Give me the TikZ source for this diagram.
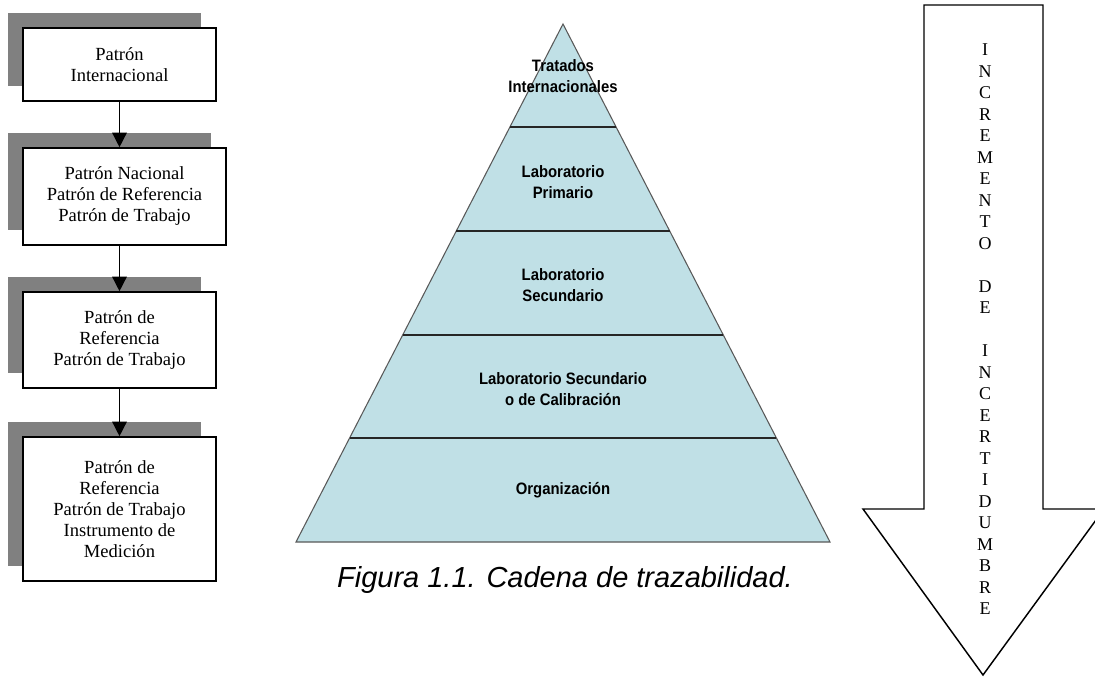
\documentclass[tikz,border=0pt]{standalone}
\usepackage{fontspec}
\setmainfont{Liberation Serif}
\newfontfamily\pyrfont[FakeStretch=0.9]{Liberation Sans}
\newfontfamily\capfont{Liberation Sans}
\usetikzlibrary{arrows.meta,shadows}
\definecolor{pyrblue}{RGB}{192,224,230}
\definecolor{shadowgray}{RGB}{128,128,128}
\tikzset{
    patron/.style={draw, line width=1.2pt, fill=white, inner sep=0pt, align=center,
        font=\fontsize{13.9}{15.75}\selectfont,
        general shadow={fill=shadowgray, shadow xshift=-11.25pt, shadow yshift=11.25pt}},
    nivel/.style={align=center, inner sep=0pt, font=\pyrfont\bfseries\fontsize{12.4}{15.75}\selectfont},
    flecha/.style={line width=1.1pt, -{Triangle[length=11pt,width=11pt]}}
}
\begin{document}
\begin{tikzpicture}[x=0.75pt,y=-0.75pt]
        \useasboundingbox (0,0) rectangle (1095,677);
        \clip (0,0) rectangle (1095,677);
        % cadena de patrones
        \node[patron, minimum width=144.75pt, minimum height=54.75pt] (pint) at (119.5,64.5) {Patr\'on\\Internacional};
        \node[patron, minimum width=152.25pt, minimum height=72.75pt] (pnac) at (124.5,196.5) {Patr\'on Nacional\\Patr\'on de Referencia\\Patr\'on de Trabajo};
        \node[patron, minimum width=144.75pt, minimum height=72pt] (pref) at (119.5,340) {Patr\'on de\\Referencia\\Patr\'on de Trabajo};
        \node[patron, minimum width=144.75pt, minimum height=108pt] (pins) at (119.5,509) {Patr\'on de\\Referencia\\Patr\'on de Trabajo\\Instrumento de\\Medici\'on};
        \draw[flecha] (pint.south) -- (pint.south |- pnac.north);
        \draw[flecha] (pint.south |- pnac.south) -- (pref.north);
        \draw[flecha] (pref.south) -- (pins.north);
        % piramide
        \fill[pyrblue] (563,24) -- (830,542) -- (296,542) -- cycle;
        \draw[black!65, line width=0.8pt] (563,24) -- (830,542) -- (296,542) -- cycle;
        \draw[black!85, line width=1.1pt] (510,127) -- (616,127);
        \draw[black!85, line width=1.1pt] (456,231) -- (670,231);
        \draw[black!85, line width=1.1pt] (403,335) -- (723,335);
        \draw[black!85, line width=1.1pt] (350,438) -- (776,438);
        \node[nivel] (trat) at (563,76) {Tratados\\Internacionales};
        \node[nivel] (prim) at (563,182) {Laboratorio\\Primario};
        \node[nivel] (secu) at (563,285) {Laboratorio\\Secundario};
        \node[nivel] (cali) at (563,389) {Laboratorio Secundario\\o de Calibraci\'on};
        \node[nivel] (orga) at (563,490) {Organizaci\'on};
        \node[font=\capfont\itshape\fontsize{21.75}{26}\selectfont, inner sep=0pt] (cap) at (565,580) {Figura 1.1. Cadena de trazabilidad.};
        % flecha de incertidumbre
        \draw[line width=1.1pt, fill=white] (924,5) -- (1043,5) -- (1043,509) -- (1104,509) -- (983,675) -- (863,509) -- (924,509) -- cycle;
        \node[align=center, inner sep=0pt, font=\fontsize{13.5}{16.125}\selectfont] (incr) at (985,329.5)
            {I\\N\\C\\R\\E\\M\\E\\N\\T\\O\\[16.125pt]D\\E\\[16.125pt]I\\N\\C\\E\\R\\T\\I\\D\\U\\M\\B\\R\\E};
\end{tikzpicture}
\end{document}
